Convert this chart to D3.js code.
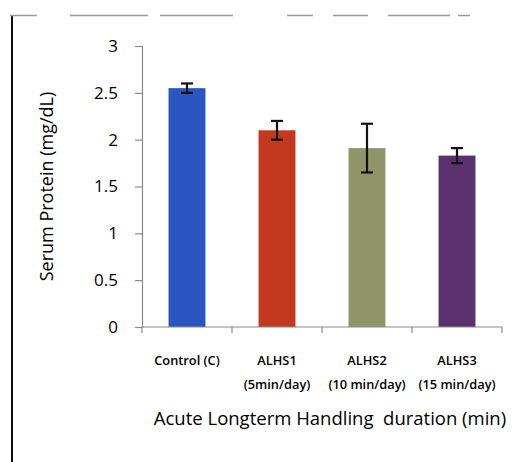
<!DOCTYPE html>
<html>
<head>
<meta charset="utf-8">
<script src="https://cdn.jsdelivr.net/npm/d3@7"></script>
<style>
  html, body { margin: 0; padding: 0; background: #fff; }
  svg { display: block; }
  text { font-family: "Open Sans", "DejaVu Sans", sans-serif; fill: #000; }
</style>
</head>
<body>
<script>
// data
const groups = ['Control (C)', 'ALHS1', 'ALHS2', 'ALHS3'];
const subLabels = ['', '(5min/day)', '(10 min/day)', '(15 min/day)'];
const means = [2.55, 2.10, 1.91, 1.83];
const errors = [0.05, 0.10, 0.26, 0.08];
const barColors = ['#2b56c2', '#c4381f', '#8f9569', '#5b306f'];
const yTicks = [0, 0.5, 1, 1.5, 2, 2.5, 3];

const width = 517, height = 462;
const x0 = 142, x1 = 502, yTop = 46, yBottom = 327;

const svg = d3.select('body').append('svg')
    .attr('width', width)
    .attr('height', height);

// frame bits of the scanned page
svg.append('line')
    .attr('x1', 12).attr('x2', 12)
    .attr('y1', 15).attr('y2', height)
    .attr('stroke', '#111').attr('stroke-width', 2);

const topBits = [[10, 37], [70, 148], [160, 233], [287, 313], [333, 368], [388, 450], [458, 470]];
svg.selectAll('.topbit')
    .data(topBits)
    .enter()
    .append('line')
    .attr('x1', d => d[0]).attr('x2', d => d[1])
    .attr('y1', 15.5).attr('y2', 15.5)
    .attr('stroke', '#999').attr('stroke-width', 1.5);

var xScale = d3.scaleBand()
    .domain(groups)
    .range([x0, x1])
    .paddingInner(0.59)
    .paddingOuter(0.295);

var yScale = d3.scaleLinear()
    .domain([0, 3])
    .range([yBottom, yTop]);

// bars
svg.selectAll('.bar')
    .data(groups)
    .enter()
    .append('rect')
    .attr('class', 'bar')
    .attr('x', d => xScale(d))
    .attr('y', (d, i) => yScale(means[i]))
    .attr('width', xScale.bandwidth())
    .attr('height', (d, i) => yScale(0) - yScale(means[i]))
    .attr('fill', (d, i) => barColors[i]);

// error bars
var err = svg.selectAll('.err')
    .data(groups)
    .enter()
    .append('g')
    .attr('class', 'err')
    .attr('transform', d => `translate(${xScale(d) + xScale.bandwidth() / 2},0)`)
    .attr('stroke', '#111')
    .attr('stroke-width', 2.2);

err.append('line')
    .attr('x1', 0).attr('x2', 0)
    .attr('y1', (d, i) => yScale(means[i] + errors[i]))
    .attr('y2', (d, i) => yScale(means[i] - errors[i]));
err.append('line')
    .attr('x1', -6).attr('x2', 6)
    .attr('y1', (d, i) => yScale(means[i] + errors[i]))
    .attr('y2', (d, i) => yScale(means[i] + errors[i]));
err.append('line')
    .attr('x1', -6).attr('x2', 6)
    .attr('y1', (d, i) => yScale(means[i] - errors[i]))
    .attr('y2', (d, i) => yScale(means[i] - errors[i]));

// y axis
var yAxis = d3.axisLeft(yScale)
    .tickValues(yTicks)
    .tickFormat(d3.format('~g'))
    .tickSize(7)
    .tickSizeOuter(7)
    .tickPadding(17);

var yAxisGroup = svg.append('g')
    .attr('transform', `translate(${x0},0)`)
    .call(yAxis);
yAxisGroup.selectAll('path, line').attr('stroke', '#8a8a8a').attr('stroke-width', 1.2);
yAxisGroup.selectAll('text')
    .style('font-size', '17px')
    .style('font-family', '"Open Sans", sans-serif')
    .attr('fill', '#000');

// x axis (ticks between categories)
var xAxisGroup = svg.append('g');
xAxisGroup.append('line')
    .attr('x1', x0).attr('x2', x1)
    .attr('y1', yBottom).attr('y2', yBottom)
    .attr('stroke', '#8a8a8a').attr('stroke-width', 1.2);
var step = xScale.step();
xAxisGroup.selectAll('.xt')
    .data(d3.range(groups.length + 1))
    .enter()
    .append('line')
    .attr('x1', i => x0 + i * step).attr('x2', i => x0 + i * step)
    .attr('y1', yBottom).attr('y2', yBottom + 6)
    .attr('stroke', '#8a8a8a').attr('stroke-width', 1.2);

// category labels
var labels = svg.selectAll('.cat')
    .data(groups)
    .enter()
    .append('g')
    .attr('transform', d => `translate(${xScale(d) + xScale.bandwidth() / 2},0)`);
labels.append('text')
    .attr('y', 365)
    .attr('text-anchor', 'middle')
    .style('font-size', '12.8px')
    .style('font-weight', '600')
    .text(d => d);
labels.append('text')
    .attr('y', 389)
    .attr('text-anchor', 'middle')
    .style('font-size', '12.8px')
    .style('font-weight', '600')
    .text((d, i) => subLabels[i]);

// axis titles
svg.append('text')
    .attr('x', 330)
    .attr('y', 425)
    .attr('text-anchor', 'middle')
    .style('font-size', '18.5px')
    .style('white-space', 'pre')
    .attr('xml:space', 'preserve')
    .text('Acute Longterm Handling  duration (min)');

svg.append('text')
    .attr('transform', `translate(53,${(yTop + yBottom) / 2}) rotate(-90)`)
    .attr('text-anchor', 'middle')
    .style('font-size', '18px')
    .text('Serum Protein (mg/dL)');
</script>
</body>
</html>
